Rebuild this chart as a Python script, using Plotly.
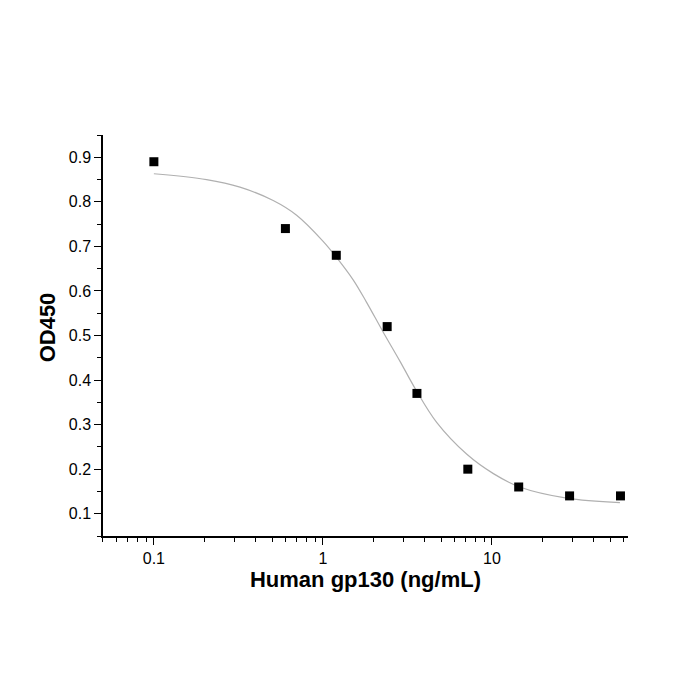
import plotly.graph_objects as go

# Measured data points
conc = [0.1, 0.6, 1.2, 2.4, 3.6, 7.2, 14.4, 28.8, 57.6]
od450 = [0.89, 0.74, 0.68, 0.52, 0.37, 0.20, 0.16, 0.14, 0.14]

# Fitted curve
curve_x = [0.1, 0.205, 0.323, 0.508, 0.699, 1.0, 1.2, 1.51, 1.81, 2.27, 2.86, 3.5,
           4.71, 7.08, 10.2, 14.6, 27.7, 57.2]
curve_y = [0.863, 0.850, 0.833, 0.803, 0.770, 0.712, 0.676, 0.625, 0.575, 0.508, 0.442, 0.382,
           0.305, 0.234, 0.190, 0.160, 0.135, 0.125]

fig = go.Figure()
fig.add_trace(go.Scatter(x=curve_x, y=curve_y, mode="lines",
                         line=dict(color="#b0b0b0", width=1.2, shape="spline", smoothing=1.0),
                         hoverinfo="skip", showlegend=False))
fig.add_trace(go.Scatter(x=conc, y=od450, mode="markers",
                         marker=dict(symbol="square", size=9, color="black"),
                         showlegend=False))

font_family = "Liberation Sans, Arial, sans-serif"
fig.update_layout(
    width=700, height=700,
    margin=dict(l=103, r=72, t=135, b=164),
    paper_bgcolor="white", plot_bgcolor="white",
    font=dict(family=font_family, color="black", size=16),
    xaxis=dict(
        type="log", range=[-1.301, 1.805],
        showline=True, linecolor="black", linewidth=1.5,
        showgrid=False, zeroline=False,
        ticks="outside", ticklen=7, tickwidth=1.2, tickcolor="black",
        dtick=1,
        minor=dict(ticks="outside", ticklen=4, tickwidth=1.2, tickcolor="black", dtick="D1", showgrid=False),
        tickfont=dict(size=16),
        title=dict(text="<b>Human gp130 (ng/mL)</b>", font=dict(size=22), standoff=4),
    ),
    yaxis=dict(
        range=[0.05, 0.95],
        showline=True, linecolor="black", linewidth=1.5,
        showgrid=False, zeroline=False,
        ticks="outside", ticklen=7, tickwidth=1.2, tickcolor="black",
        dtick=0.1, tick0=0.1, tickformat=".1f",
        minor=dict(ticks="outside", ticklen=4, tickwidth=1.2, tickcolor="black", dtick=0.05, tick0=0.05, showgrid=False),
        tickfont=dict(size=16),
    ),
    annotations=[dict(text="<b>OD450</b>", textangle=-90, font=dict(size=22),
                      xref="paper", yref="paper", x=-0.105, y=0.52,
                      xanchor="center", yanchor="middle", showarrow=False)],
)

fig.write_html("out.html")
